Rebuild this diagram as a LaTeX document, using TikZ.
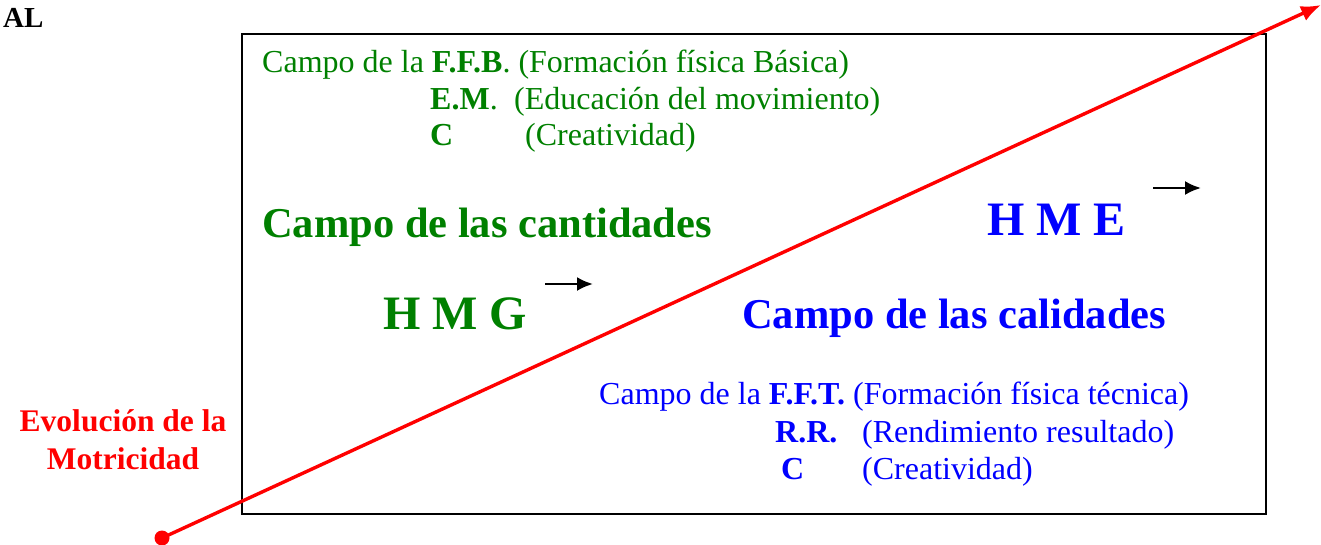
\documentclass[tikz,border=0pt]{standalone}
\usepackage{fontspec}
\setmainfont{Liberation Serif}
\usetikzlibrary{arrows.meta}
\definecolor{wgreen}{RGB}{0,128,0}
\definecolor{wblue}{RGB}{0,0,255}
\definecolor{wred}{RGB}{255,0,0}
\tikzset{
  small/.style={anchor=base west, inner sep=0pt, font=\fontsize{32}{36}\selectfont},
  big/.style={anchor=base west, inner sep=0pt, font=\fontsize{42.5}{48}\selectfont\bfseries},
  huge/.style={anchor=base west, inner sep=0pt, font=\fontsize{48}{54}\selectfont\bfseries},
  blackarrow/.style={line width=2.4pt, -{Latex[length=16pt,width=14pt]}},
}
\begin{document}
\begin{tikzpicture}[x=1pt,y=-1pt]
\useasboundingbox (0,0) rectangle (1321,545);
\node[anchor=base west, inner sep=0pt, font=\fontsize{29}{32}\selectfont\bfseries] (al) at (3,28) {AL};
\node[draw, line width=1.8pt, minimum width=1024pt, minimum height=480pt, anchor=north west, inner sep=0pt] (box) at (241,33) {};
% green texts
\begin{scope}[wgreen]
\node[small] (g1) at (262,73) {Campo de la \textbf{F.F.B}. (Formación física Básica)};
\node[small] (g2a) at (430,110) {\textbf{E.M}.};
\node[small] (g2b) at (514,110) {(Educación del movimiento)};
\node[small] (g3a) at (430,146) {\textbf{C}};
\node[small] (g3b) at (525,146) {(Creatividad)};
\node[big] (cant) at (262,237) {Campo de las cantidades};
\node[huge] (hmg) at (383,329) {H M G};
\end{scope}
\begin{scope}[wblue]
\node[huge] (hme) at (987,236) {H M E};
\node[big] (cal) at (742,328) {Campo de las calidades};
\node[small] (b1) at (599,404) {Campo de la \textbf{F.F.T.} (Formación física técnica)};
\node[small] (b2a) at (775,442) {\textbf{R.R.}};
\node[small] (b2b) at (862,442) {(Rendimiento resultado)};
\node[small] (b3a) at (781,479) {\textbf{C}};
\node[small] (b3b) at (862,479) {(Creatividad)};
\end{scope}
\node[wred, align=center, inner sep=0pt, font=\fontsize{31.5}{38}\selectfont\bfseries] (evo) at (123,440) {Evolución de la\\Motricidad};
% black arrows
\coordinate (a1s) at (545,284); \coordinate (a1e) at (593,284);
\coordinate (a2s) at (1153,188); \coordinate (a2e) at (1201,188);
\draw[blackarrow] (a1s) -- (a1e);
\draw[blackarrow] (a2s) -- (a2e);
% red evolution line
\coordinate (rs) at (162,538); \coordinate (re) at (1321,5);
\draw[wred, line width=3.4pt, -{Latex[length=20pt,width=16pt]}] (rs) -- (re);
\fill[wred] (rs) circle (7.5pt);
\end{tikzpicture}
\end{document}
